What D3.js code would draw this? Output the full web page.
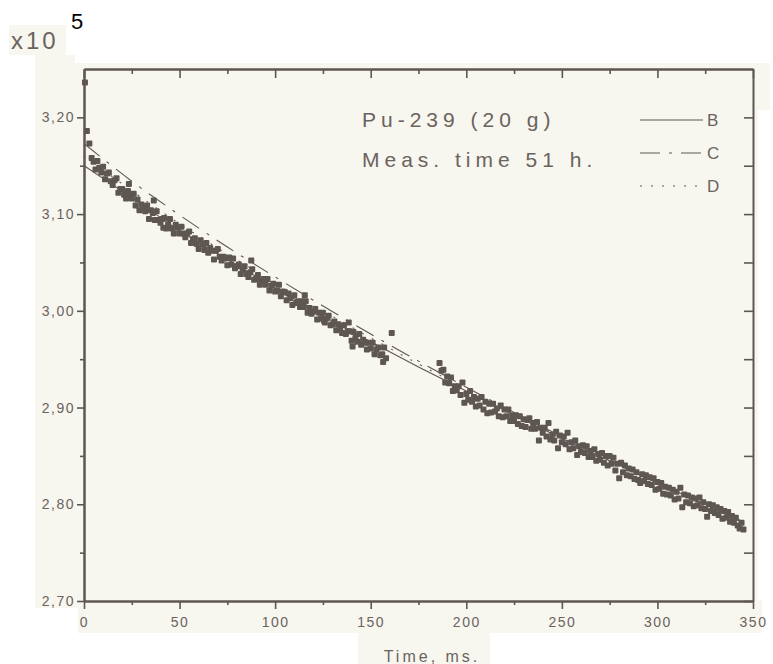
<!DOCTYPE html>
<html>
<head>
<meta charset="utf-8">
<script src="https://cdn.jsdelivr.net/npm/d3@7"></script>
<style>
  body { margin: 0; background: #ffffff; }
  svg { display: block; }
  .axis path, .axis line { stroke: #5e5652; }
  .axis text { fill: #6b635e; font-family: "Liberation Sans", Arial, sans-serif; font-size: 14px; letter-spacing: 1.5px; }
</style>
</head>
<body>
<svg class="graphe"></svg>
<script>

// Données -----------------------------------------------------------
let xTicks = [0, 50, 100, 150, 200, 250, 300, 350];
let xMinor = [25, 75, 125, 175, 225, 275, 325];
let yTicks = [2.70, 2.80, 2.90, 3.00, 3.10, 3.20];
let yMinor = [2.75, 2.85, 2.95, 3.05, 3.15];

// mesures : [temps ms, comptage x10^5]
let mesures = [
  [0.5,3.236],[1.5,3.186],[2.8,3.173],[4,3.158],
  [5,3.154],[6,3.146],[7,3.155],[8,3.148],[9,3.143],[10,3.149],[11,3.136],[12,3.142],
  [13,3.143],[14,3.134],[15,3.130],[16,3.135],[17,3.137],[18,3.122],[19,3.126],[20,3.126],
  [21,3.120],[22,3.116],[23,3.124],[23.5,3.131],[24,3.119],[25,3.116],[26,3.121],[27,3.109],
  [28,3.115],[29,3.104],[30,3.110],[31,3.107],[32,3.103],[33,3.109],[34,3.095],[35,3.104],
  [36,3.101],[36.5,3.114],[37,3.094],[38,3.103],[39,3.094],[40,3.091],[41,3.095],[41.5,3.086],
  [42,3.096],[43,3.085],[44,3.089],[45,3.095],[46,3.085],[47,3.080],[48,3.089],[49,3.086],
  [50,3.080],[51,3.087],[52,3.080],[53,3.076],[54,3.080],[55,3.082],[56,3.070],[57,3.074],
  [58,3.075],[59,3.069],[60,3.064],[61,3.073],[62,3.069],[63,3.063],[64,3.070],[65,3.060],
  [66,3.065],[67,3.062],[68,3.053],[69,3.062],[70,3.064],[71,3.056],[72,3.052],[73,3.056],
  [74,3.054],[75,3.047],[76,3.055],[77,3.048],[78,3.054],[79,3.044],[80,3.046],[81,3.048],
  [82,3.038],[83,3.043],[84,3.046],[85,3.038],[86,3.035],[87,3.040],[87.5,3.052],[88,3.043],
  [89,3.032],[90,3.033],[91,3.037],[92,3.027],[93,3.031],[94,3.033],[95,3.027],[96,3.033],
  [97,3.021],[98,3.026],[99,3.028],[100,3.020],[101,3.021],[102,3.027],[103,3.015],[104,3.020],
  [105,3.019],[106,3.011],[107,3.018],[108,3.013],[109,3.006],[110,3.016],[111,3.008],[112,3.010],
  [113,3.004],[114,3.010],[115,3.004],[115.5,3.016],[116,3.010],[117,2.998],[118,3.003],[119,2.997],
  [120,2.999],[121,3.002],[122,2.991],[123,2.998],[124,2.992],[125,2.998],[125.5,2.990],[126,2.988],
  [127,2.992],[128,2.995],[129,2.985],[130,2.986],[131,2.989],[132,2.980],[133,2.986],[134,2.982],
  [135,2.977],[136,2.985],[137,2.976],[138,2.979],[138.5,2.988],[139,2.979],[140,2.969],[140.5,2.963],
  [141,2.978],[142,2.972],[143,2.968],[144,2.976],[145,2.965],[146,2.970],[147,2.967],[148,2.960],
  [149,2.967],[150,2.961],[151,2.967],[152,2.955],[153,2.960],[154,2.962],[155,2.954],[156,2.955],
  [156.5,2.947],[157,2.962],[158,2.951],[161,2.977],
  [186,2.946],[187,2.938],[188,2.939],[189,2.926],[190,2.932],[191,2.925],[192,2.931],[193,2.917],
  [194,2.922],[195,2.918],[196,2.922],[197,2.913],[198,2.926],[199,2.905],[200,2.914],[201,2.908],
  [202,2.917],[203,2.906],[204,2.911],[205,2.901],[206,2.909],[207,2.902],[208,2.911],[209,2.898],
  [210,2.906],[211,2.894],[212,2.904],[213,2.895],[214,2.904],[215,2.896],[216,2.899],[217,2.891],
  [218,2.902],[219,2.890],[220,2.898],[221,2.891],[222,2.898],[223,2.886],[224,2.892],[225,2.886],
  [226,2.892],[227,2.883],[228,2.891],[229,2.881],[230,2.888],[231,2.880],[232,2.887],[233,2.889],
  [234,2.878],[235,2.884],[236,2.878],[237,2.885],[238,2.866],[239,2.879],[240,2.874],[241,2.879],
  [242,2.870],[243,2.884],[244,2.867],[245,2.872],[246,2.866],[247,2.875],[248,2.858],[249,2.871],
  [250,2.864],[251,2.870],[252,2.862],[253,2.874],[254,2.857],[255,2.864],[256,2.858],[257,2.866],
  [258,2.851],[259,2.860],[260,2.854],[261,2.861],[262,2.853],[263,2.860],[264,2.849],[265,2.855],
  [266,2.849],[267,2.857],[268,2.845],[269,2.852],[270,2.846],[271,2.853],[272,2.843],[273,2.850],
  [274,2.840],[275,2.850],[276,2.842],[277,2.848],[278,2.835],[279,2.842],[280,2.827],[281,2.843],
  [282,2.833],[283,2.840],[284,2.830],[285,2.837],[286,2.829],[287,2.836],[288,2.826],[289,2.833],
  [290,2.825],[291,2.822],[292,2.831],[293,2.824],[294,2.830],[295,2.821],[296,2.828],[297,2.820],
  [298,2.827],[299,2.815],[300,2.823],[301,2.816],[302,2.822],[303,2.811],[304,2.818],[305,2.810],
  [306,2.817],[307,2.809],[308,2.815],[309,2.805],[310,2.813],[311,2.806],[312,2.817],[313,2.797],
  [314,2.810],[315,2.802],[316,2.809],[317,2.801],[318,2.807],[319,2.798],[320,2.806],[321,2.799],
  [322,2.807],[323,2.796],[324,2.802],[325,2.795],[326,2.787],[327,2.800],[328,2.793],[329,2.799],
  [330,2.791],[331,2.797],[332,2.789],[333,2.795],[334,2.785],[335,2.793],[336,2.786],[337,2.792],
  [338,2.782],[339,2.788],[340,2.781],[341,2.786],[342,2.778],[343,2.775],[344,2.781],[345,2.774]
];

// courbes ajustées B, C, D
let courbeB = [[0,3.150],[25,3.117],[50,3.083],[75,3.053],[100,3.024],[125,2.995],[150,2.968],[175,2.942],
  [200,2.917],[225,2.892],[250,2.868],[275,2.845],[300,2.822],[325,2.800],[345,2.782]];
let courbeC = [[0,3.173],[25,3.134],[50,3.099],[75,3.066],[100,3.035],[125,3.005],[150,2.976],[175,2.948],
  [200,2.921],[225,2.895],[250,2.870],[275,2.846],[300,2.822],[325,2.799],[345,2.781]];
let courbeD = [[0,3.160],[50,3.090],[100,3.029],[150,2.972],[200,2.919],[250,2.869],[300,2.822],[345,2.781]];

let legende = ["B", "C", "D"];
let tirets = [null, "20,9,3,9", "2,9"];


//GRAPHIQUE-----------------------------------------------------------
//--------------------------------------------------------------------

let w = 773;
let h = 664;
let encre = "#5e5652";
let gris = "#6b635e";
let papier = "#f7f6ef";

let svg = d3.select(".graphe")
  .attr("width", w)
  .attr("height", h);

// morceaux de papier scanné
let fonds = [
  [9, 25, 57, 30],
  [35, 55, 40, 553],
  [70, 63, 688, 545],
  [758, 63, 12, 47],
  [78, 600, 684, 33],
  [358, 633, 132, 31]
];
svg.append("g").selectAll("rect")
  .data(fonds)
  .enter().append("rect")
  .attr("x", d => d[0]).attr("y", d => d[1])
  .attr("width", d => d[2]).attr("height", d => d[3])
  .attr("fill", papier);

let x = d3.scaleLinear().domain([0, 350]).range([84, 753]);
let y = d3.scaleLinear().domain([2.70, 3.25]).range([601, 69]);

let virgule = d => d.toFixed(2).replace(".", ",");

// axe gauche
svg.append("g")
  .attr("class", "axis")
  .attr("transform", "translate(" + x(0) + ",0)")
  .call(d3.axisLeft(y).tickValues(yTicks).tickSize(7).tickSizeOuter(0).tickPadding(2).tickFormat(virgule));
svg.append("g")
  .attr("class", "axis")
  .attr("transform", "translate(" + x(0) + ",0)")
  .call(d3.axisLeft(y).tickValues(yMinor).tickSize(4).tickSizeOuter(0).tickFormat(""));

// axe droit (graduations vers l'intérieur)
svg.append("g")
  .attr("class", "axis")
  .attr("transform", "translate(" + x(350) + ",0)")
  .call(d3.axisLeft(y).tickValues(yTicks.concat(yMinor)).tickSize(9).tickSizeOuter(0).tickFormat(""));

// axe bas
svg.append("g")
  .attr("class", "axis")
  .attr("transform", "translate(0," + y(2.70) + ")")
  .call(d3.axisBottom(x).tickValues(xTicks).tickSize(8).tickSizeOuter(0).tickPadding(8).tickFormat(d3.format("d")));
svg.append("g")
  .attr("class", "axis")
  .attr("transform", "translate(0," + y(2.70) + ")")
  .call(d3.axisBottom(x).tickValues(xMinor).tickSize(4).tickSizeOuter(0).tickFormat(""));

// axe haut (graduations vers l'intérieur)
svg.append("g")
  .attr("class", "axis")
  .attr("transform", "translate(0," + y(3.25) + ")")
  .call(d3.axisBottom(x).tickValues(xTicks).tickSize(9).tickSizeOuter(0).tickFormat(""));
svg.append("g")
  .attr("class", "axis")
  .attr("transform", "translate(0," + y(3.25) + ")")
  .call(d3.axisBottom(x).tickValues(xMinor).tickSize(5).tickSizeOuter(0).tickFormat(""));

svg.selectAll(".axis path").attr("stroke-width", 2);
svg.selectAll(".axis line").attr("stroke-width", 1.6);

// courbes
let ligne = d3.line()
  .x(d => x(d[0]))
  .y(d => y(d[1]))
  .curve(d3.curveMonotoneX);

[courbeB, courbeC, courbeD].forEach(function(c, i) {
  svg.append("path")
    .datum(c)
    .attr("d", ligne)
    .attr("fill", "none")
    .attr("stroke", encre)
    .attr("stroke-width", 1.1)
    .attr("stroke-dasharray", tirets[i]);
});

// points de mesure
svg.append("g").selectAll("rect")
  .data(mesures)
  .enter().append("rect")
  .attr("x", d => x(d[0]) - 3)
  .attr("y", d => y(d[1]) - 3)
  .attr("width", 6)
  .attr("height", 6)
  .attr("rx", 1)
  .attr("fill", encre);

// textes
let police = '"Liberation Sans", Arial, sans-serif';

svg.append("text")
  .attr("x", 11).attr("y", 49)
  .attr("font-family", police).attr("font-size", 24)
  .attr("letter-spacing", 3)
  .attr("fill", gris)
  .text("x10");

svg.append("text")
  .attr("x", 71).attr("y", 29)
  .attr("font-family", police).attr("font-size", 22)
  .attr("fill", "#000")
  .text("5");

svg.append("text")
  .attr("x", 432).attr("y", 662)
  .attr("text-anchor", "middle")
  .attr("font-family", police).attr("font-size", 16)
  .attr("letter-spacing", 3)
  .attr("fill", gris)
  .text("Time, ms.");

svg.append("text")
  .attr("x", 362).attr("y", 127)
  .attr("font-family", police).attr("font-size", 21)
  .attr("letter-spacing", 5)
  .attr("fill", gris)
  .text("Pu-239 (20 g)");

svg.append("text")
  .attr("x", 362).attr("y", 167)
  .attr("font-family", police).attr("font-size", 21)
  .attr("letter-spacing", 5)
  .attr("fill", gris)
  .text("Meas. time 51 h.");

// légende
let legY = [120, 153, 186];
legende.forEach(function(l, i) {
  svg.append("line")
    .attr("x1", 640).attr("x2", 703)
    .attr("y1", legY[i]).attr("y2", legY[i])
    .attr("stroke", encre)
    .attr("stroke-width", 1.1)
    .attr("stroke-dasharray", tirets[i]);
  svg.append("text")
    .attr("x", 707).attr("y", legY[i] + 6)
    .attr("font-family", police).attr("font-size", 17)
    .attr("fill", gris)
    .text(l);
});

</script>
</body>
</html>
